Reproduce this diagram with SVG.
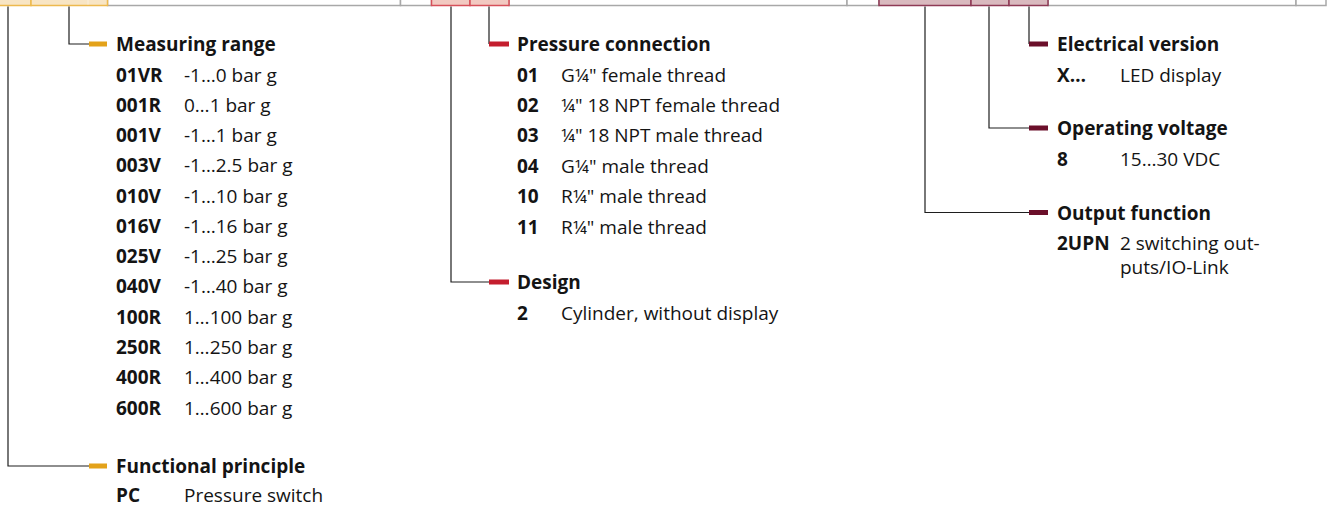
<svg xmlns="http://www.w3.org/2000/svg" width="1327" height="506" viewBox="0 0 1327 506">
<style>
text{font-family:"Open Sans","Noto Sans","Liberation Sans",sans-serif;font-size:19px;fill:#141414}
.h,.c{font-weight:700}
.cell{stroke-width:1.5}
.w{fill:#ffffff;stroke:#a8a8a8}
.o{fill:#f8e5c4;stroke:#edb94e}
.r{fill:#f2c9c1;stroke:#d6505a}
.m{fill:#d9b9be;stroke:#8e3a55}
.ln{fill:none;stroke:#1e1e1e;stroke-width:1.2}
.to{fill:#e3a21a}
.tr{fill:#c41e2e}
.tm{fill:#6b0f2a}
</style>
<g id="code-strip">
<rect class="cell w" x="107.5" y="-10" width="293" height="15.5"/>
<rect class="cell w" x="400.5" y="-10" width="31" height="15.5"/>
<rect class="cell w" x="509" y="-10" width="338" height="15.5"/>
<rect class="cell w" x="847" y="-10" width="32" height="15.5"/>
<rect class="cell w" x="1048" y="-10" width="248" height="15.5"/>
<rect class="cell w" x="1296" y="-10" width="30" height="15.5"/>
<rect class="cell o" x="-1" y="-10" width="32" height="15.5"/>
<rect class="cell o" x="31" y="-10" width="76.5" height="15.5"/>
<line x1="88" y1="-10" x2="88" y2="4.5" stroke="#fbefdc" stroke-width="1"/>
<rect class="cell r" x="431.5" y="-10" width="38.5" height="15.5"/>
<rect class="cell r" x="470" y="-10" width="39" height="15.5"/>
<rect class="cell m" x="879" y="-10" width="92" height="15.5"/>
<rect class="cell m" x="971" y="-10" width="38" height="15.5"/>
<rect class="cell m" x="1009" y="-10" width="39" height="15.5"/>
</g>
<g id="connectors">
<polyline class="ln" points="8,6.5 8,466 89,466"/>
<polyline class="ln" points="69,6.5 69,44 89,44"/>
<polyline class="ln" points="451,6.5 451,282 489,282"/>
<polyline class="ln" points="489,6.5 489,44"/>
<polyline class="ln" points="925,6.5 925,212.5 1029,212.5"/>
<polyline class="ln" points="989,6.5 989,128 1029,128"/>
<polyline class="ln" points="1029,6.5 1029,44"/>
<rect class="to" x="89" y="41.5" width="18" height="5"/>
<rect class="to" x="89" y="463.5" width="18" height="5"/>
<rect class="tr" x="489" y="41.5" width="20" height="5"/>
<rect class="tr" x="489" y="279.5" width="20" height="5"/>
<rect class="tm" x="1029" y="41.5" width="19" height="5"/>
<rect class="tm" x="1029" y="125.5" width="19" height="5"/>
<rect class="tm" x="1029" y="210" width="19" height="5"/>
</g>
<g id="measuring-range">
<text class="h" x="116" y="51">Measuring range</text>
<text class="c" x="116" y="81.5">01VR</text><text x="184" y="81.5">-1…0 bar g</text>
<text class="c" x="116" y="111.8">001R</text><text x="184" y="111.8">0…1 bar g</text>
<text class="c" x="116" y="142">001V</text><text x="184" y="142">-1…1 bar g</text>
<text class="c" x="116" y="172.3">003V</text><text x="184" y="172.3">-1…2.5 bar g</text>
<text class="c" x="116" y="202.6">010V</text><text x="184" y="202.6">-1…10 bar g</text>
<text class="c" x="116" y="232.9">016V</text><text x="184" y="232.9">-1…16 bar g</text>
<text class="c" x="116" y="263.1">025V</text><text x="184" y="263.1">-1…25 bar g</text>
<text class="c" x="116" y="293.4">040V</text><text x="184" y="293.4">-1…40 bar g</text>
<text class="c" x="116" y="323.7">100R</text><text x="184" y="323.7">1…100 bar g</text>
<text class="c" x="116" y="353.9">250R</text><text x="184" y="353.9">1…250 bar g</text>
<text class="c" x="116" y="384.2">400R</text><text x="184" y="384.2">1…400 bar g</text>
<text class="c" x="116" y="414.5">600R</text><text x="184" y="414.5">1…600 bar g</text>
</g>
<g id="functional-principle">
<text class="h" x="116" y="472.5">Functional principle</text>
<text class="c" x="116" y="501.5">PC</text><text x="184" y="501.5">Pressure switch</text>
</g>
<g id="pressure-connection">
<text class="h" x="517" y="51">Pressure connection</text>
<text class="c" x="517" y="81.5">01</text><text x="561" y="81.5">G¼" female thread</text>
<text class="c" x="517" y="111.9">02</text><text x="561" y="111.9">¼" 18 NPT female thread</text>
<text class="c" x="517" y="142.3">03</text><text x="561" y="142.3">¼" 18 NPT male thread</text>
<text class="c" x="517" y="172.7">04</text><text x="561" y="172.7">G¼" male thread</text>
<text class="c" x="517" y="203.1">10</text><text x="561" y="203.1">R¼" male thread</text>
<text class="c" x="517" y="233.5">11</text><text x="561" y="233.5">R¼" male thread</text>
</g>
<g id="design">
<text class="h" x="517" y="289">Design</text>
<text class="c" x="517" y="319.5">2</text><text x="561" y="319.5">Cylinder, without display</text>
</g>
<g id="electrical-version">
<text class="h" x="1057" y="51">Electrical version</text>
<text class="c" x="1057" y="81.5">X…</text><text x="1120" y="81.5">LED display</text>
</g>
<g id="operating-voltage">
<text class="h" x="1057" y="135">Operating voltage</text>
<text class="c" x="1057" y="165.5">8</text><text x="1120" y="165.5">15…30 VDC</text>
</g>
<g id="output-function">
<text class="h" x="1057" y="219.5">Output function</text>
<text class="c" x="1057" y="250">2UPN</text><text x="1120" y="250">2 switching out-</text>
<text x="1120" y="274">puts/IO-Link</text>
</g>
</svg>
